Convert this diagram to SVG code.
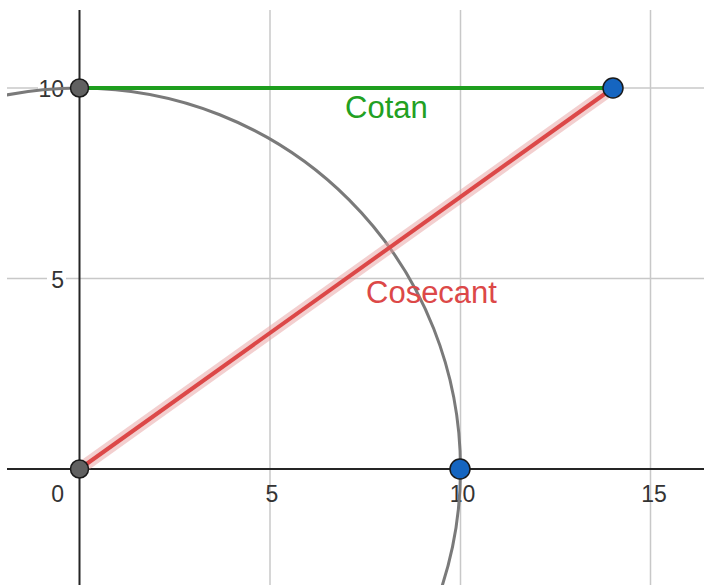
<svg xmlns="http://www.w3.org/2000/svg" width="704" height="585" viewBox="0 0 704 585">
<style>
.grid{stroke:#c8c8c8;stroke-width:1.5;fill:none}
.axis{stroke:#252525;stroke-width:2;fill:none}
.tick{font-family:"Liberation Sans",Arial,sans-serif;font-size:23px;fill:#333}
.bg{fill:#fff}
.lbl{font-family:"Liberation Sans",Arial,sans-serif;font-size:31px}
.pt-dark{fill:#616161;stroke:#1a1a1a;stroke-width:1.5}
.pt-blue{fill:#1565c0;stroke:#1a1a1a;stroke-width:1.5}
</style>
<defs>
<clipPath id="view"><rect x="7" y="10" width="697" height="575"/></clipPath>
</defs>
<rect width="704" height="585" fill="#fff"/>
<g clip-path="url(#view)">
<g id="grid">
<line class="grid" x1="270" y1="10" x2="270" y2="585"/>
<line class="grid" x1="460.5" y1="10" x2="460.5" y2="585"/>
<line class="grid" x1="650.5" y1="10" x2="650.5" y2="585"/>
<line class="grid" x1="7" y1="88" x2="704" y2="88"/>
<line class="grid" x1="7" y1="278.5" x2="704" y2="278.5"/>
</g>
<g id="axis-labels">
<rect class="bg" x="47" y="268" width="19" height="22"/>
<rect class="bg" x="38" y="77" width="28" height="22"/>
<text class="tick" x="64" y="288" text-anchor="end">5</text>
<text class="tick" x="64" y="97" text-anchor="end">10</text>
<text class="tick" x="64" y="502" text-anchor="end">0</text>
<text class="tick" x="272" y="502" text-anchor="middle">5</text>
<text class="tick" x="462.5" y="502" text-anchor="middle">10</text>
<text class="tick" x="654" y="502" text-anchor="middle">15</text>
</g>
<g id="axes">
<line class="axis" x1="79.5" y1="10" x2="79.5" y2="585"/>
<line class="axis" x1="7" y1="469" x2="704" y2="469"/>
</g>
<g id="circle">
<circle cx="79.5" cy="469" r="381" fill="none" stroke="#7a7a7a" stroke-width="3"/>
</g>
<g id="connectors">
<line x1="79.5" y1="469" x2="613" y2="88" stroke="#e8a0a0" stroke-opacity="0.5" stroke-width="12" stroke-linecap="round"/>
<line id="cosecant-line" x1="79.5" y1="469" x2="613" y2="88" stroke="#dc4848" stroke-width="4"/>
<line id="cotan-line" x1="79.5" y1="88" x2="613" y2="88" stroke="#1e9e1e" stroke-width="4"/>
</g>
<g id="labels">
<text class="lbl" x="345" y="118" fill="#22a022">Cotan</text>
<text class="lbl" x="366" y="303" fill="#dc4848">Cosecant</text>
</g>
<g id="point-origin"><circle class="pt-dark" cx="79.5" cy="469" r="9"/></g>
<g id="point-0-10"><circle class="pt-dark" cx="79.5" cy="88" r="9"/></g>
<g id="point-10-0"><circle class="pt-blue" cx="460" cy="469" r="10"/></g>
<g id="point-14-10"><circle class="pt-blue" cx="613" cy="88" r="10"/></g>
</g>
</svg>
